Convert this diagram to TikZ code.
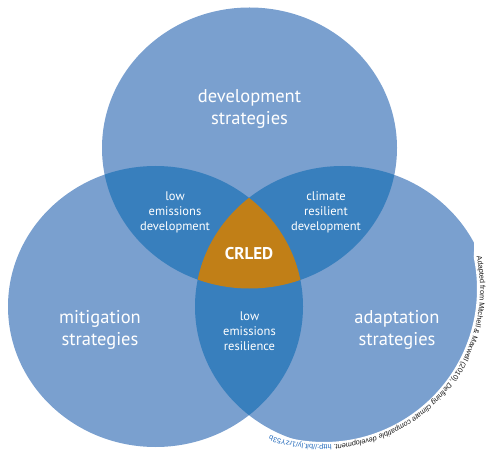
\documentclass[tikz,border=0pt]{standalone}
\usepackage{fontspec}
\setmainfont{PT Sans}
\newfontfamily\citefont{Liberation Sans}
\usetikzlibrary{decorations.text}
\definecolor{lightb}{RGB}{122,160,207}
\definecolor{darkb}{RGB}{56,127,189}
\definecolor{crled}{RGB}{193,127,23}
\definecolor{linkb}{RGB}{38,108,188}
\definecolor{citegray}{RGB}{25,25,25}
\newcommand\citeF{\citefont\fontsize{7.3}{8}\selectfont}
\begin{document}
\begin{tikzpicture}[x=1pt,y=1pt,
  bigtext/.style={text=white, font=\fontsize{18.5}{22}\selectfont, align=center, inner sep=0pt},
  smalltext/.style={text=white, font=\fontsize{12.5}{15}\selectfont, align=center, inner sep=0pt},
  coretext/.style={text=white, font=\bfseries\fontsize{17}{20}\selectfont, inner sep=0pt},
]
\useasboundingbox (0,0) rectangle (492,458);
\def\ellT{(249.5,310) ellipse [x radius=147.5, y radius=140.5]}
\def\ellL{(155.5,151.5) ellipse [x radius=147.5, y radius=140.5]}
\def\ellR{(342.5,151.5) ellipse [x radius=147.5, y radius=140.5]}
% single circles
\fill[lightb] \ellT;
\fill[lightb] \ellL;
\fill[lightb] \ellR;
% pairwise overlaps
\begin{scope}
  \clip \ellT;
  \fill[darkb] \ellL;
  \fill[darkb] \ellR;
\end{scope}
\begin{scope}
  \clip \ellL;
  \fill[darkb] \ellR;
\end{scope}
% triple overlap
\begin{scope}
  \clip \ellT;
  \clip \ellL;
  \fill[crled] \ellR;
\end{scope}
% citation: white margin round the text, then the text
\coordinate (tc) at (324,169);
\begin{scope}[shift={(tc)}]
  \fill[white] plot[domain=42:-115, samples=160]
    (\x:{ifthenelse(\x>12, 153+(\x-12)*24/30, 153)})
    -- (-115:190) arc[start angle=-115, end angle=42, radius=190] -- cycle;
\end{scope}
\path[decorate, decoration={text along path, text align=left,
  text={|\citeF\color{citegray}|Adapted from Mitchell {\&} Maxwell (2010), |\citeF\itshape\color{citegray}|Defining climate compatible development. |\citeF\color{linkb}|http://bit.ly/1rzY53b}}]
  (tc) ++(12:156) arc[start angle=12, end angle=-118, radius=156];
% labels
\node[bigtext] (dev) at (249.5,349) {development\\strategies};
\node[bigtext] (mit) at (100,128.5) {mitigation\\strategies};
\node[bigtext] (ada) at (397,128.5) {adaptation\\strategies};
\node[smalltext] (led) at (175,246) {low\\emissions\\development};
\node[smalltext] (crd) at (326,246) {climate\\resilient\\development};
\node[smalltext] (ler) at (249.5,127) {low\\emissions\\resilience};
\node[coretext] (core) at (249,204) {CRLED};
\end{tikzpicture}
\end{document}
